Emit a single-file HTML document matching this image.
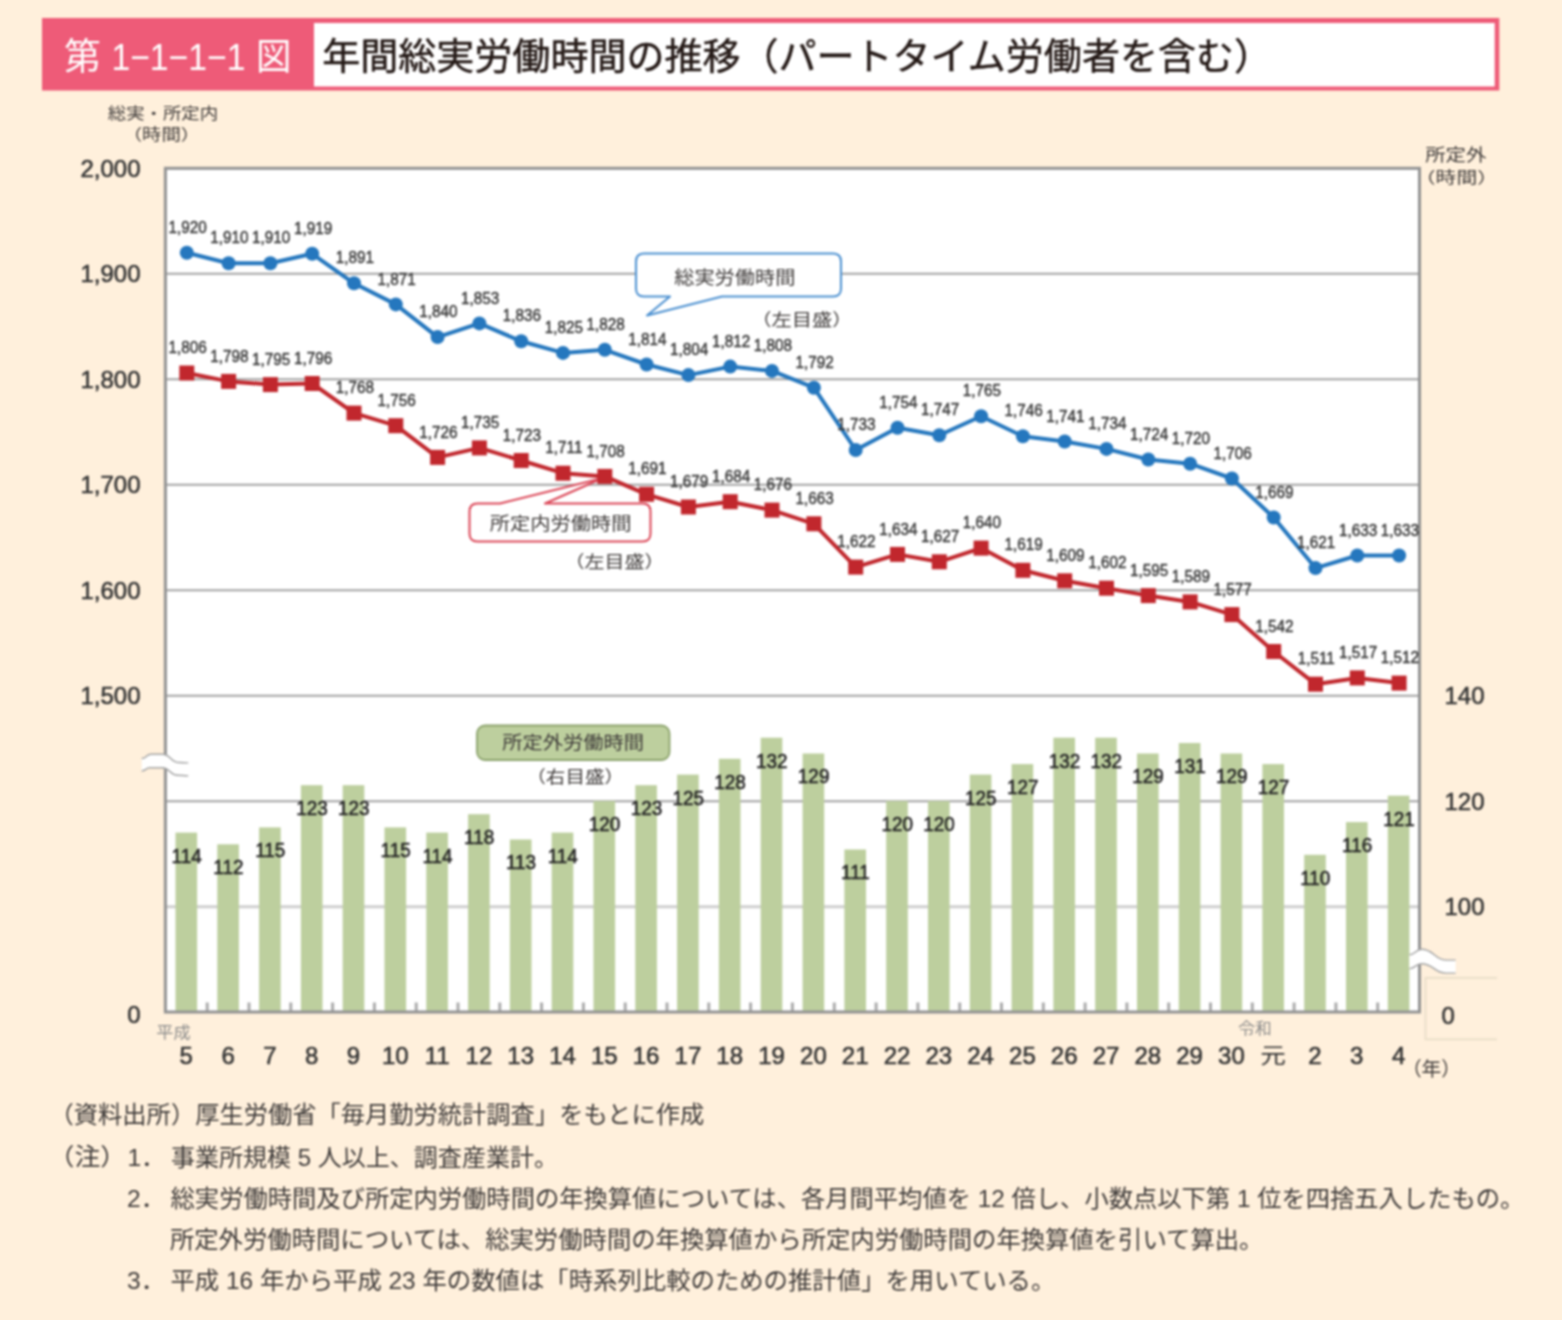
<!DOCTYPE html>
<html lang="ja"><head><meta charset="utf-8"><title>第1-1-1-1図 年間総実労働時間の推移</title>
<style>
html,body{margin:0;padding:0;background:#FFF0DC}
body{width:1562px;height:1320px;overflow:hidden;font-family:"Liberation Sans","Noto Sans CJK JP",sans-serif}
svg{display:block}
#chart{width:1562px;height:1320px;filter:blur(1px)}
svg text{font-family:"Liberation Sans","Noto Sans CJK JP",sans-serif}
</style></head><body>
<div id="chart">
<svg width="1562" height="1320" viewBox="0 0 1562 1320">
<rect x="42" y="18" width="1457.3" height="72.5" fill="#EE5B78"/>
<rect x="314" y="23" width="1180.7" height="63.5" fill="#fff"/>
<text x="63.95" y="69.74" font-size="37" fill="#fff" textLength="36.9" lengthAdjust="spacingAndGlyphs">第</text>
<text x="111.38" y="69.8" font-size="37" fill="#fff" textLength="134.1" lengthAdjust="spacingAndGlyphs">1−1−1−1</text>
<text x="255.91" y="69.65" font-size="37" fill="#fff" textLength="35.4" lengthAdjust="spacingAndGlyphs">図</text>
<text x="322.29" y="70.08" font-size="37.3" fill="#231815" stroke="#231815" stroke-width="0.45" textLength="949.7" lengthAdjust="spacingAndGlyphs">年間総実労働時間の推移（パートタイム労働者を含む）</text>
<text x="107.74" y="119.2" font-size="15.5" fill="#3E3A39" textLength="110.4" lengthAdjust="spacingAndGlyphs">総実・所定内</text>
<text x="122.66" y="139.64" font-size="15.5" fill="#3E3A39" textLength="77.6" lengthAdjust="spacingAndGlyphs">（時間）</text>
<text x="1425.19" y="161.43" font-size="17.5" fill="#3E3A39" textLength="61.3" lengthAdjust="spacingAndGlyphs">所定外</text>
<text x="1414.84" y="182.64" font-size="15.5" fill="#3E3A39" textLength="83.2" lengthAdjust="spacingAndGlyphs">（時間）</text>
<rect x="165.4" y="168.3" width="1254.1" height="843.7" fill="#fff"/>
<line x1="165.4" x2="1419.5" y1="273.8" y2="273.8" stroke="#A2A2A2" stroke-width="2"/>
<line x1="165.4" x2="1419.5" y1="379.3" y2="379.3" stroke="#A2A2A2" stroke-width="2"/>
<line x1="165.4" x2="1419.5" y1="484.8" y2="484.8" stroke="#A2A2A2" stroke-width="2"/>
<line x1="165.4" x2="1419.5" y1="590.3" y2="590.3" stroke="#A2A2A2" stroke-width="2"/>
<line x1="165.4" x2="1419.5" y1="695.8" y2="695.8" stroke="#A2A2A2" stroke-width="2"/>
<line x1="165.4" x2="1419.5" y1="801.2" y2="801.2" stroke="#A2A2A2" stroke-width="2"/>
<line x1="165.4" x2="1419.5" y1="906.8" y2="906.8" stroke="#CFCFCF" stroke-width="3"/>
<line x1="207.2" x2="207.2" y1="1002.5" y2="1012" stroke="#ABABAB" stroke-width="3"/>
<line x1="249.0" x2="249.0" y1="1002.5" y2="1012" stroke="#ABABAB" stroke-width="3"/>
<line x1="290.8" x2="290.8" y1="1002.5" y2="1012" stroke="#ABABAB" stroke-width="3"/>
<line x1="332.6" x2="332.6" y1="1002.5" y2="1012" stroke="#ABABAB" stroke-width="3"/>
<line x1="374.4" x2="374.4" y1="1002.5" y2="1012" stroke="#ABABAB" stroke-width="3"/>
<line x1="416.2" x2="416.2" y1="1002.5" y2="1012" stroke="#ABABAB" stroke-width="3"/>
<line x1="458.0" x2="458.0" y1="1002.5" y2="1012" stroke="#ABABAB" stroke-width="3"/>
<line x1="499.8" x2="499.8" y1="1002.5" y2="1012" stroke="#ABABAB" stroke-width="3"/>
<line x1="541.6" x2="541.6" y1="1002.5" y2="1012" stroke="#ABABAB" stroke-width="3"/>
<line x1="583.4" x2="583.4" y1="1002.5" y2="1012" stroke="#ABABAB" stroke-width="3"/>
<line x1="625.2" x2="625.2" y1="1002.5" y2="1012" stroke="#ABABAB" stroke-width="3"/>
<line x1="667.0" x2="667.0" y1="1002.5" y2="1012" stroke="#ABABAB" stroke-width="3"/>
<line x1="708.8" x2="708.8" y1="1002.5" y2="1012" stroke="#ABABAB" stroke-width="3"/>
<line x1="750.6" x2="750.6" y1="1002.5" y2="1012" stroke="#ABABAB" stroke-width="3"/>
<line x1="792.4" x2="792.4" y1="1002.5" y2="1012" stroke="#ABABAB" stroke-width="3"/>
<line x1="834.3" x2="834.3" y1="1002.5" y2="1012" stroke="#ABABAB" stroke-width="3"/>
<line x1="876.1" x2="876.1" y1="1002.5" y2="1012" stroke="#ABABAB" stroke-width="3"/>
<line x1="917.9" x2="917.9" y1="1002.5" y2="1012" stroke="#ABABAB" stroke-width="3"/>
<line x1="959.7" x2="959.7" y1="1002.5" y2="1012" stroke="#ABABAB" stroke-width="3"/>
<line x1="1001.5" x2="1001.5" y1="1002.5" y2="1012" stroke="#ABABAB" stroke-width="3"/>
<line x1="1043.3" x2="1043.3" y1="1002.5" y2="1012" stroke="#ABABAB" stroke-width="3"/>
<line x1="1085.1" x2="1085.1" y1="1002.5" y2="1012" stroke="#ABABAB" stroke-width="3"/>
<line x1="1126.9" x2="1126.9" y1="1002.5" y2="1012" stroke="#ABABAB" stroke-width="3"/>
<line x1="1168.7" x2="1168.7" y1="1002.5" y2="1012" stroke="#ABABAB" stroke-width="3"/>
<line x1="1210.5" x2="1210.5" y1="1002.5" y2="1012" stroke="#ABABAB" stroke-width="3"/>
<line x1="1252.3" x2="1252.3" y1="1002.5" y2="1012" stroke="#ABABAB" stroke-width="3"/>
<line x1="1294.1" x2="1294.1" y1="1002.5" y2="1012" stroke="#ABABAB" stroke-width="3"/>
<line x1="1335.9" x2="1335.9" y1="1002.5" y2="1012" stroke="#ABABAB" stroke-width="3"/>
<line x1="1377.7" x2="1377.7" y1="1002.5" y2="1012" stroke="#ABABAB" stroke-width="3"/>
<rect x="175.5" y="832.6" width="21.6" height="179.4" fill="#BDCF9E"/>
<rect x="217.3" y="844.3" width="21.6" height="167.7" fill="#BDCF9E"/>
<rect x="259.1" y="827.4" width="21.6" height="184.6" fill="#BDCF9E"/>
<rect x="300.9" y="785.2" width="21.6" height="226.8" fill="#BDCF9E"/>
<rect x="342.7" y="785.2" width="21.6" height="226.8" fill="#BDCF9E"/>
<rect x="384.5" y="827.4" width="21.6" height="184.6" fill="#BDCF9E"/>
<rect x="426.3" y="832.6" width="21.6" height="179.4" fill="#BDCF9E"/>
<rect x="468.1" y="814.2" width="21.6" height="197.8" fill="#BDCF9E"/>
<rect x="509.9" y="839.5" width="21.6" height="172.5" fill="#BDCF9E"/>
<rect x="551.7" y="832.6" width="21.6" height="179.4" fill="#BDCF9E"/>
<rect x="593.5" y="801.0" width="21.6" height="211.0" fill="#BDCF9E"/>
<rect x="635.3" y="785.2" width="21.6" height="226.8" fill="#BDCF9E"/>
<rect x="677.1" y="774.6" width="21.6" height="237.4" fill="#BDCF9E"/>
<rect x="718.9" y="758.8" width="21.6" height="253.2" fill="#BDCF9E"/>
<rect x="760.7" y="737.7" width="21.6" height="274.3" fill="#BDCF9E"/>
<rect x="802.6" y="753.5" width="21.6" height="258.5" fill="#BDCF9E"/>
<rect x="844.4" y="849.5" width="21.6" height="162.5" fill="#BDCF9E"/>
<rect x="886.2" y="801.0" width="21.6" height="211.0" fill="#BDCF9E"/>
<rect x="928.0" y="801.0" width="21.6" height="211.0" fill="#BDCF9E"/>
<rect x="969.8" y="774.6" width="21.6" height="237.4" fill="#BDCF9E"/>
<rect x="1011.6" y="764.1" width="21.6" height="247.9" fill="#BDCF9E"/>
<rect x="1053.4" y="737.7" width="21.6" height="274.3" fill="#BDCF9E"/>
<rect x="1095.2" y="737.7" width="21.6" height="274.3" fill="#BDCF9E"/>
<rect x="1137.0" y="753.5" width="21.6" height="258.5" fill="#BDCF9E"/>
<rect x="1178.8" y="743.0" width="21.6" height="269.0" fill="#BDCF9E"/>
<rect x="1220.6" y="753.5" width="21.6" height="258.5" fill="#BDCF9E"/>
<rect x="1262.4" y="764.1" width="21.6" height="247.9" fill="#BDCF9E"/>
<rect x="1304.2" y="854.8" width="21.6" height="157.2" fill="#BDCF9E"/>
<rect x="1346.0" y="822.1" width="21.6" height="189.9" fill="#BDCF9E"/>
<rect x="1387.8" y="795.7" width="21.6" height="216.3" fill="#BDCF9E"/>
<rect x="165.4" y="168.3" width="1254.1" height="843.7" fill="none" stroke="#929292" stroke-width="3"/>
<g font-size="19.5" fill="#262626" stroke="#262626" stroke-width="0.55" text-anchor="middle" transform="scale(0.97 1)">
<text x="192.4" y="862.6">114</text>
<text x="235.5" y="874.3">112</text>
<text x="278.6" y="857.4">115</text>
<text x="321.7" y="815.2">123</text>
<text x="364.8" y="815.2">123</text>
<text x="407.9" y="857.4">115</text>
<text x="451.0" y="862.6">114</text>
<text x="494.0" y="844.2">118</text>
<text x="537.1" y="869.5">113</text>
<text x="580.2" y="862.6">114</text>
<text x="623.3" y="831.0">120</text>
<text x="666.4" y="815.2">123</text>
<text x="709.5" y="804.6">125</text>
<text x="752.6" y="788.8">128</text>
<text x="795.7" y="767.7">132</text>
<text x="838.8" y="783.5">129</text>
<text x="881.9" y="879.5">111</text>
<text x="925.0" y="831.0">120</text>
<text x="968.1" y="831.0">120</text>
<text x="1011.2" y="804.6">125</text>
<text x="1054.3" y="794.1">127</text>
<text x="1097.4" y="767.7">132</text>
<text x="1140.5" y="767.7">132</text>
<text x="1183.6" y="783.5">129</text>
<text x="1226.7" y="773.0">131</text>
<text x="1269.8" y="783.5">129</text>
<text x="1312.9" y="794.1">127</text>
<text x="1356.0" y="884.8">110</text>
<text x="1399.1" y="852.1">116</text>
<text x="1442.2" y="825.7">121</text>
</g>
<path d="M644 253.5H833Q841 253.5 841 261.5V288.500Q841 296.5 833 296.5H722L647 315.5L670 296.5H644Q636 296.5 636 288.5V261.5Q636 253.5 644 253.5Z" fill="#fff" stroke="#4A8FD0" stroke-width="2" stroke-linejoin="round"/>
<text x="674.23" y="283.66" font-size="18" fill="#3E3A39" textLength="121.1" lengthAdjust="spacingAndGlyphs">総実労働時間</text>
<text x="751.35" y="326.2" font-size="17" fill="#3E3A39" textLength="101.2" lengthAdjust="spacingAndGlyphs">（左目盛）</text>
<path d="M477.5 503.5H500L603 478L545 503.5H642.5Q650.5 503.5 650.5 511.5V533.5Q650.5 541.5 642.5 541.5H477.5Q469.5 541.5 469.5 533.5V511.5Q469.5 503.5 477.5 503.5Z" fill="#fff" stroke="#DB4556" stroke-width="2" stroke-linejoin="round"/>
<text x="489.7" y="530.16" font-size="18" fill="#3E3A39" textLength="141.7" lengthAdjust="spacingAndGlyphs">所定内労働時間</text>
<text x="564.5" y="568.2" font-size="17" fill="#3E3A39" textLength="99.9" lengthAdjust="spacingAndGlyphs">（左目盛）</text>
<rect x="477" y="725.5" width="192.500" height="34.500" rx="8" fill="#BDCF9E" stroke="#8BA26B" stroke-width="1.8"/>
<text x="502.2" y="749.46" font-size="18" fill="#3E3A39" textLength="141.7" lengthAdjust="spacingAndGlyphs">所定外労働時間</text>
<text x="526.22" y="783.2" font-size="17" fill="#3E3A39" textLength="97.9" lengthAdjust="spacingAndGlyphs">（右目盛）</text>
<polyline points="186.8,252.7 228.6,263.2 270.4,263.2 312.2,253.8 354.0,283.3 395.8,304.4 437.6,337.1 479.4,323.4 521.2,341.3 563.0,352.9 604.8,349.8 646.6,364.5 688.4,375.1 730.2,366.6 772.0,370.9 813.9,387.7 855.7,450.0 897.5,427.8 939.3,435.2 981.1,416.2 1022.9,436.3 1064.7,441.5 1106.5,448.9 1148.3,459.5 1190.1,463.7 1231.9,478.5 1273.7,517.5 1315.5,568.1 1357.3,555.5 1399.1,555.5" fill="none" stroke="#2577BE" stroke-width="4" stroke-linejoin="round"/>
<circle cx="186.8" cy="252.7" r="7" fill="#2577BE"/>
<circle cx="228.6" cy="263.2" r="7" fill="#2577BE"/>
<circle cx="270.4" cy="263.2" r="7" fill="#2577BE"/>
<circle cx="312.2" cy="253.8" r="7" fill="#2577BE"/>
<circle cx="354.0" cy="283.3" r="7" fill="#2577BE"/>
<circle cx="395.8" cy="304.4" r="7" fill="#2577BE"/>
<circle cx="437.6" cy="337.1" r="7" fill="#2577BE"/>
<circle cx="479.4" cy="323.4" r="7" fill="#2577BE"/>
<circle cx="521.2" cy="341.3" r="7" fill="#2577BE"/>
<circle cx="563.0" cy="352.9" r="7" fill="#2577BE"/>
<circle cx="604.8" cy="349.8" r="7" fill="#2577BE"/>
<circle cx="646.6" cy="364.5" r="7" fill="#2577BE"/>
<circle cx="688.4" cy="375.1" r="7" fill="#2577BE"/>
<circle cx="730.2" cy="366.6" r="7" fill="#2577BE"/>
<circle cx="772.0" cy="370.9" r="7" fill="#2577BE"/>
<circle cx="813.9" cy="387.7" r="7" fill="#2577BE"/>
<circle cx="855.7" cy="450.0" r="7" fill="#2577BE"/>
<circle cx="897.5" cy="427.8" r="7" fill="#2577BE"/>
<circle cx="939.3" cy="435.2" r="7" fill="#2577BE"/>
<circle cx="981.1" cy="416.2" r="7" fill="#2577BE"/>
<circle cx="1022.9" cy="436.3" r="7" fill="#2577BE"/>
<circle cx="1064.7" cy="441.5" r="7" fill="#2577BE"/>
<circle cx="1106.5" cy="448.9" r="7" fill="#2577BE"/>
<circle cx="1148.3" cy="459.5" r="7" fill="#2577BE"/>
<circle cx="1190.1" cy="463.7" r="7" fill="#2577BE"/>
<circle cx="1231.9" cy="478.5" r="7" fill="#2577BE"/>
<circle cx="1273.7" cy="517.5" r="7" fill="#2577BE"/>
<circle cx="1315.5" cy="568.1" r="7" fill="#2577BE"/>
<circle cx="1357.3" cy="555.5" r="7" fill="#2577BE"/>
<circle cx="1399.1" cy="555.5" r="7" fill="#2577BE"/>
<polyline points="186.8,373.0 228.6,381.4 270.4,384.6 312.2,383.5 354.0,413.1 395.8,425.7 437.6,457.4 479.4,447.9 521.2,460.5 563.0,473.2 604.8,476.4 646.6,494.3 688.4,507.0 730.2,501.7 772.0,510.1 813.9,523.8 855.7,567.1 897.5,554.4 939.3,561.8 981.1,548.1 1022.9,570.3 1064.7,580.8 1106.5,588.2 1148.3,595.6 1190.1,601.9 1231.9,614.6 1273.7,651.5 1315.5,684.2 1357.3,677.9 1399.1,683.1" fill="none" stroke="#C1272D" stroke-width="4" stroke-linejoin="round"/>
<rect x="179.3" y="365.5" width="15" height="15" fill="#C1272D"/>
<rect x="221.1" y="373.9" width="15" height="15" fill="#C1272D"/>
<rect x="262.9" y="377.1" width="15" height="15" fill="#C1272D"/>
<rect x="304.7" y="376.0" width="15" height="15" fill="#C1272D"/>
<rect x="346.5" y="405.6" width="15" height="15" fill="#C1272D"/>
<rect x="388.3" y="418.2" width="15" height="15" fill="#C1272D"/>
<rect x="430.1" y="449.9" width="15" height="15" fill="#C1272D"/>
<rect x="471.9" y="440.4" width="15" height="15" fill="#C1272D"/>
<rect x="513.7" y="453.0" width="15" height="15" fill="#C1272D"/>
<rect x="555.5" y="465.7" width="15" height="15" fill="#C1272D"/>
<rect x="597.3" y="468.9" width="15" height="15" fill="#C1272D"/>
<rect x="639.1" y="486.8" width="15" height="15" fill="#C1272D"/>
<rect x="680.9" y="499.5" width="15" height="15" fill="#C1272D"/>
<rect x="722.7" y="494.2" width="15" height="15" fill="#C1272D"/>
<rect x="764.5" y="502.6" width="15" height="15" fill="#C1272D"/>
<rect x="806.4" y="516.3" width="15" height="15" fill="#C1272D"/>
<rect x="848.2" y="559.6" width="15" height="15" fill="#C1272D"/>
<rect x="890.0" y="546.9" width="15" height="15" fill="#C1272D"/>
<rect x="931.8" y="554.3" width="15" height="15" fill="#C1272D"/>
<rect x="973.6" y="540.6" width="15" height="15" fill="#C1272D"/>
<rect x="1015.4" y="562.8" width="15" height="15" fill="#C1272D"/>
<rect x="1057.2" y="573.3" width="15" height="15" fill="#C1272D"/>
<rect x="1099.0" y="580.7" width="15" height="15" fill="#C1272D"/>
<rect x="1140.8" y="588.1" width="15" height="15" fill="#C1272D"/>
<rect x="1182.6" y="594.4" width="15" height="15" fill="#C1272D"/>
<rect x="1224.4" y="607.1" width="15" height="15" fill="#C1272D"/>
<rect x="1266.2" y="644.0" width="15" height="15" fill="#C1272D"/>
<rect x="1308.0" y="676.7" width="15" height="15" fill="#C1272D"/>
<rect x="1349.8" y="670.4" width="15" height="15" fill="#C1272D"/>
<rect x="1391.6" y="675.6" width="15" height="15" fill="#C1272D"/>
<g font-size="17" fill="#3C3C3C" stroke="#3C3C3C" stroke-width="0.5" text-anchor="middle" transform="scale(0.9 1)">
<text x="208.4" y="232.9">1,920</text>
<text x="254.9" y="243.4">1,910</text>
<text x="301.3" y="243.4">1,910</text>
<text x="347.8" y="234.0">1,919</text>
<text x="394.2" y="263.5">1,891</text>
<text x="440.7" y="284.6">1,871</text>
<text x="487.1" y="317.3">1,840</text>
<text x="533.6" y="303.6">1,853</text>
<text x="580.0" y="321.5">1,836</text>
<text x="626.5" y="333.1">1,825</text>
<text x="672.9" y="330.0">1,828</text>
<text x="719.4" y="344.7">1,814</text>
<text x="765.8" y="355.3">1,804</text>
<text x="812.3" y="346.8">1,812</text>
<text x="858.7" y="351.1">1,808</text>
<text x="905.2" y="367.9">1,792</text>
<text x="951.6" y="430.2">1,733</text>
<text x="998.1" y="408.0">1,754</text>
<text x="1044.5" y="415.4">1,747</text>
<text x="1091.0" y="396.4">1,765</text>
<text x="1137.4" y="416.5">1,746</text>
<text x="1183.9" y="421.7">1,741</text>
<text x="1230.3" y="429.1">1,734</text>
<text x="1276.8" y="439.7">1,724</text>
<text x="1323.2" y="443.9">1,720</text>
<text x="1369.6" y="458.7">1,706</text>
<text x="1416.1" y="497.7">1,669</text>
<text x="1462.5" y="548.3">1,621</text>
<text x="1509.0" y="535.7">1,633</text>
<text x="1555.4" y="535.7">1,633</text>
<text x="208.4" y="353.2">1,806</text>
<text x="254.9" y="361.6">1,798</text>
<text x="301.3" y="364.8">1,795</text>
<text x="347.8" y="363.7">1,796</text>
<text x="394.2" y="393.3">1,768</text>
<text x="440.7" y="405.9">1,756</text>
<text x="487.1" y="437.6">1,726</text>
<text x="533.6" y="428.1">1,735</text>
<text x="580.0" y="440.7">1,723</text>
<text x="626.5" y="453.4">1,711</text>
<text x="672.9" y="456.6">1,708</text>
<text x="719.4" y="474.5">1,691</text>
<text x="765.8" y="487.2">1,679</text>
<text x="812.3" y="481.9">1,684</text>
<text x="858.7" y="490.3">1,676</text>
<text x="905.2" y="504.0">1,663</text>
<text x="951.6" y="547.3">1,622</text>
<text x="998.1" y="534.6">1,634</text>
<text x="1044.5" y="542.0">1,627</text>
<text x="1091.0" y="528.3">1,640</text>
<text x="1137.4" y="550.5">1,619</text>
<text x="1183.9" y="561.0">1,609</text>
<text x="1230.3" y="568.4">1,602</text>
<text x="1276.8" y="575.8">1,595</text>
<text x="1323.2" y="582.1">1,589</text>
<text x="1369.6" y="594.8">1,577</text>
<text x="1416.1" y="631.7">1,542</text>
<text x="1462.5" y="664.4">1,511</text>
<text x="1509.0" y="658.1">1,517</text>
<text x="1555.4" y="663.3">1,512</text>
</g>
<g font-size="24" fill="#333" stroke="#333" stroke-width="0.55" text-anchor="end">
<text x="140.5" y="176.6">2,000</text>
<text x="140.5" y="282.1">1,900</text>
<text x="140.5" y="387.6">1,800</text>
<text x="140.5" y="493.1">1,700</text>
<text x="140.5" y="598.6">1,600</text>
<text x="140.5" y="704.1">1,500</text>
<text x="140.5" y="1023">0</text>
</g>
<g font-size="24" fill="#333" stroke="#333" stroke-width="0.55">
<text x="1444.5" y="704.1">140</text>
<text x="1444.5" y="809.5">120</text>
<text x="1444.5" y="915.1">100</text>
<text x="1441.5" y="1024.3">0</text>
</g>
<g font-size="24" fill="#333" stroke="#333" stroke-width="0.55" text-anchor="middle">
<text x="186.3" y="1063.8">5</text>
<text x="228.1" y="1063.8">6</text>
<text x="269.9" y="1063.8">7</text>
<text x="311.7" y="1063.8">8</text>
<text x="353.5" y="1063.8">9</text>
<text x="395.3" y="1063.8">10</text>
<text x="437.1" y="1063.8">11</text>
<text x="478.9" y="1063.8">12</text>
<text x="520.7" y="1063.8">13</text>
<text x="562.5" y="1063.8">14</text>
<text x="604.3" y="1063.8">15</text>
<text x="646.1" y="1063.8">16</text>
<text x="687.9" y="1063.8">17</text>
<text x="729.7" y="1063.8">18</text>
<text x="771.5" y="1063.8">19</text>
<text x="813.4" y="1063.8">20</text>
<text x="855.2" y="1063.8">21</text>
<text x="897.0" y="1063.8">22</text>
<text x="938.8" y="1063.8">23</text>
<text x="980.6" y="1063.8">24</text>
<text x="1022.4" y="1063.8">25</text>
<text x="1064.2" y="1063.8">26</text>
<text x="1106.0" y="1063.8">27</text>
<text x="1147.8" y="1063.8">28</text>
<text x="1189.6" y="1063.8">29</text>
<text x="1231.4" y="1063.8">30</text>
<text x="1315.0" y="1063.8">2</text>
<text x="1356.8" y="1063.8">3</text>
<text x="1398.6" y="1063.8">4</text>
</g>
<text x="1260.16" y="1063.4" font-size="22" fill="#333" textLength="25.6" lengthAdjust="spacingAndGlyphs">元</text>
<text x="156.28" y="1038.31" font-size="15.5" fill="#8A8A8A" textLength="34.3" lengthAdjust="spacingAndGlyphs">平成</text>
<text x="1238.17" y="1034.14" font-size="15.5" fill="#8A8A8A" textLength="33.5" lengthAdjust="spacingAndGlyphs">令和</text>
<text x="1401.92" y="1076.02" font-size="19.5" fill="#3E3A39" textLength="59" lengthAdjust="spacingAndGlyphs">（年）</text>
<path d="M141.7 758.5 C146.3 758.5 146.3 754.3 151.0 754.3 C156.7 754.3 156.7 754.3 162.3 754.3 C170.8 754.3 170.8 762.5 179.3 762.5 C183.8 762.5 183.8 762.9 188.3 762.9 L188.3 775.9 C182.9 775.9 182.9 775.2 177.5 775.2 C169.9 775.2 169.9 767.8 162.3 767.8 C156.2 767.8 156.2 767.8 150.0 767.8 C145.8 767.8 145.8 771.0 141.7 771.0Z" fill="#fff"/><path d="M141.7 758.5 C146.3 758.5 146.3 754.3 151.0 754.3 C156.7 754.3 156.7 754.3 162.3 754.3 C170.8 754.3 170.8 762.5 179.3 762.5 C183.8 762.5 183.8 762.9 188.3 762.9" fill="none" stroke="#A3A3A3" stroke-width="1.4"/><path d="M141.7 771.0 C145.8 771.0 145.8 767.8 150.0 767.8 C156.2 767.8 156.2 767.8 162.3 767.8 C169.9 767.8 169.9 775.2 177.5 775.2 C182.9 775.2 182.9 775.9 188.3 775.9" fill="none" stroke="#A3A3A3" stroke-width="1.4"/>
<path d="M1409.4 954.7 C1415.5 954.7 1415.5 949.3 1421.5 949.3 C1434.2 949.3 1434.2 960.1 1447.0 960.1 C1451.3 960.1 1451.3 960.1 1455.6 960.1 L1455.6 973.1 C1450.9 973.1 1450.9 973.1 1446.2 973.1 C1433.8 973.1 1433.8 963.7 1421.5 963.7 C1415.5 963.7 1415.5 968.6 1409.4 968.6Z" fill="#fff"/><path d="M1409.4 954.7 C1415.5 954.7 1415.5 949.3 1421.5 949.3 C1434.2 949.3 1434.2 960.1 1447.0 960.1 C1451.3 960.1 1451.3 960.1 1455.6 960.1" fill="none" stroke="#A3A3A3" stroke-width="1.4"/><path d="M1409.4 968.6 C1415.5 968.6 1415.5 963.7 1421.5 963.7 C1433.8 963.7 1433.8 973.1 1446.2 973.1 C1450.9 973.1 1450.9 973.1 1455.6 973.1" fill="none" stroke="#A3A3A3" stroke-width="1.4"/>
<path d="M1497 977.800H1425.5V1039.300H1497" fill="none" stroke="#E8DDC8" stroke-width="1.8"/>
<text x="49.56" y="1123.13" font-size="23.5" fill="#3E3A39" textLength="654.7" lengthAdjust="spacingAndGlyphs">（資料出所）厚生労働省「毎月勤労統計調査」をもとに作成</text>
<text x="48.62" y="1165.46" font-size="23.5" fill="#3E3A39" textLength="77.6" lengthAdjust="spacingAndGlyphs">（注）</text>
<text x="127.42" y="1165.58" font-size="23.5" fill="#3E3A39" textLength="38.3" lengthAdjust="spacingAndGlyphs">1．</text>
<text x="170.92" y="1165.69" font-size="23.5" fill="#3E3A39" textLength="387.1" lengthAdjust="spacingAndGlyphs">事業所規模 5 人以上、調査産業計。</text>
<text x="127" y="1207.19" font-size="23.5" fill="#3E3A39" textLength="38.3" lengthAdjust="spacingAndGlyphs">2．</text>
<text x="170.57" y="1207.3" font-size="23.5" fill="#3E3A39" textLength="1353.8" lengthAdjust="spacingAndGlyphs">総実労働時間及び所定内労働時間の年換算値については、各月間平均値を 12 倍し、小数点以下第 1 位を四捨五入したもの。</text>
<text x="169.95" y="1248.3" font-size="23.5" fill="#3E3A39" textLength="1093.5" lengthAdjust="spacingAndGlyphs">所定外労働時間については、総実労働時間の年換算値から所定内労働時間の年換算値を引いて算出。</text>
<text x="127" y="1288.96" font-size="23.5" fill="#3E3A39" textLength="38.3" lengthAdjust="spacingAndGlyphs">3．</text>
<text x="170.49" y="1289.13" font-size="23.5" fill="#3E3A39" textLength="884.9" lengthAdjust="spacingAndGlyphs">平成 16 年から平成 23 年の数値は「時系列比較のための推計値」を用いている。</text>
</svg>
</div>
</body></html>
